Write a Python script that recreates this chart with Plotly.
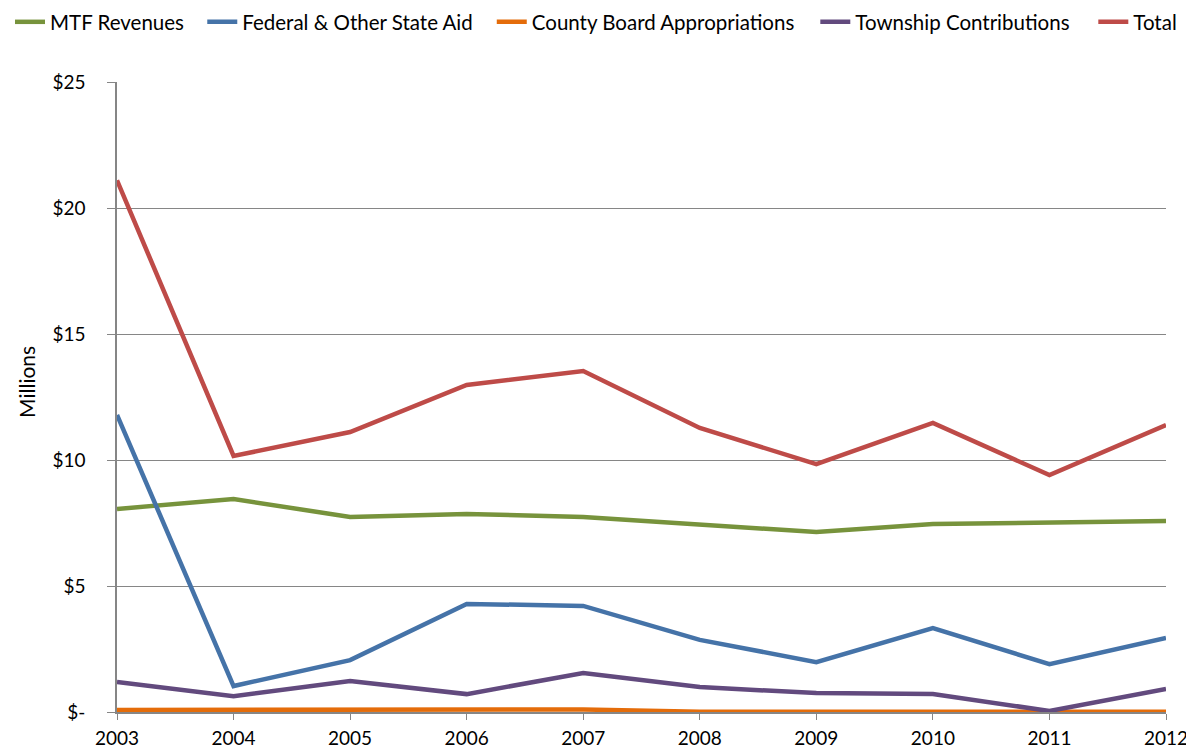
import plotly.graph_objects as go

years = [2003, 2004, 2005, 2006, 2007, 2008, 2009, 2010, 2011, 2012]
mtf = [8.06, 8.45, 7.74, 7.86, 7.74, 7.42, 7.14, 7.46, 7.50, 7.58]
federal = [11.79, 1.03, 2.06, 4.29, 4.21, 2.86, 1.98, 3.33, 1.90, 2.94]
county = [0.08, 0.08, 0.08, 0.11, 0.10, 0.01, 0.01, 0.01, 0.01, 0.01]
township = [1.19, 0.63, 1.23, 0.71, 1.55, 0.99, 0.75, 0.71, 0.04, 0.91]
total = [21.10, 10.16, 11.11, 12.98, 13.53, 11.27, 9.84, 11.47, 9.40, 11.39]

y_tickvals = [0, 5, 10, 15, 20, 25]
y_ticktext = ["$-", "$5", "$10", "$15", "$20", "$25"]

series = [
    ("MTF Revenues", mtf, "#77933C"),
    ("Federal & Other State Aid", federal, "#4573A8"),
    ("County Board Appropriations", county, "#E46C0A"),
    ("Township Contributions", township, "#624A7E"),
    ("Total", total, "#BE4B48"),
]
legend_x = [0.0017, 0.1638, 0.4079, 0.6807, 0.9151]

fig = go.Figure()
layout_legends = {}
for i, (name, vals, color) in enumerate(series):
    key = "legend" if i == 0 else f"legend{i + 1}"
    fig.add_trace(go.Scatter(x=years, y=vals, name=name, mode="lines",
                             line=dict(color=color, width=4.5), legend=key))
    layout_legends[key] = dict(orientation="h", x=legend_x[i], y=1.127,
                               xref="container", yref="paper",
                               xanchor="left", yanchor="top",
                               font=dict(size=20.5), bgcolor="rgba(0,0,0,0)")

fig.update_layout(
    width=1186, height=746,
    margin=dict(l=109, r=28, t=74, b=42, autoexpand=False),
    paper_bgcolor="white", plot_bgcolor="white",
    font=dict(family="Lato, 'Open Sans', sans-serif", size=19, color="black"),
    showlegend=True,
    annotations=[dict(text="Millions", xref="paper", yref="paper",
                      x=-0.0858, y=0.524, textangle=-90, showarrow=False,
                      font=dict(size=21), xanchor="center", yanchor="middle")],
    **layout_legends,
)
fig.update_xaxes(range=[2003, 2012], tickmode="array", tickvals=years,
                 ticktext=[str(y) for y in years], automargin=False,
                 showgrid=False, showline=True, linecolor="#868686", linewidth=1.5,
                 ticks="outside", ticklen=6, tickcolor="#868686", zeroline=False,
                 ticklabelstandoff=2)
fig.update_yaxes(range=[0, 25], tickmode="array", tickvals=y_tickvals, ticktext=y_ticktext,
                 showgrid=True, gridcolor="#868686", gridwidth=1, automargin=False,
                 showline=True, linecolor="#868686", linewidth=1.5,
                 ticks="outside", ticklen=8, tickcolor="#868686", zeroline=False,
                 ticklabelstandoff=18)

fig.write_html("out.html")
